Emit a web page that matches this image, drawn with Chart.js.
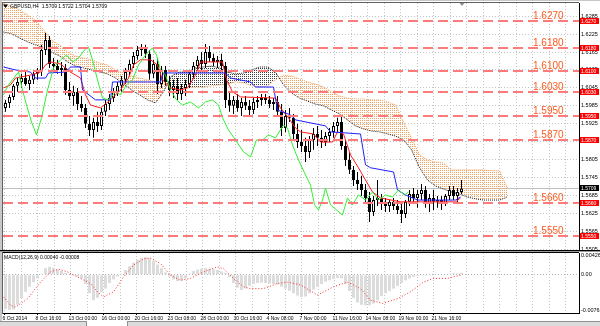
<!DOCTYPE html>
<html><head><meta charset="utf-8">
<script src="https://cdn.jsdelivr.net/npm/chart.js@4.4.0/dist/chart.umd.min.js"></script>
<style>
html,body{margin:0;padding:0;background:#fff;}
#wrap{position:relative;width:600px;height:326px;overflow:hidden;background:#fff;}
#main{position:absolute;left:0;top:0;}
#macd{position:absolute;left:0;top:252px;}
#tabs{position:absolute;left:0;top:321px;width:600px;height:5px;background:#dcdcdc;border-top:1px solid #909090;}
#tab1{position:absolute;left:86px;top:-1px;width:40px;height:6px;background:#fff;border-left:1px solid #909090;border-right:1px solid #909090;}
</style></head><body>
<div id="wrap">
<canvas id="main" width="600" height="252"></canvas>
<canvas id="macd" width="600" height="74"></canvas>
<div id="tabs"><div id="tab1"></div></div>
</div>
<script>
// ---------- DATA ----------
const timeLabels = ['6 Oct 2014','8 Oct 16:00','13 Oct 00:00','16 Oct 00:00','20 Oct 16:00','23 Oct 08:00','28 Oct 00:00','30 Oct 16:00','4 Nov 08:00','7 Nov 00:00','11 Nov 16:00','14 Nov 08:00','19 Nov 00:00','21 Nov 16:00'];
const priceTicks = [1.5505,1.5565,1.5625,1.5685,1.5745,1.5805,1.5865,1.5925,1.5985,1.6045,1.6105,1.6165,1.6225,1.6285];
const macdTicks = [0.00426, 0, -0.00762];
const levels = [1.6270,1.6180,1.6100,1.6030,1.5950,1.5870,1.5660,1.5550];
const lastPrice = 1.5709;
const headerText = 'GBPUSD,H4  1.5709 1.5722 1.5704 1.5709';
const macdTitle = 'MACD(12,26,9) 0.00040 -0.00008';

const opens = [1.5978,1.5995,1.6015,1.6052,1.6065,1.6078,1.6058,1.6072,1.6092,1.6098,
1.6172,1.6205,1.6125,1.6118,1.6105,1.6112,1.6038,1.6018,1.6032,1.5991,
1.5978,1.5925,1.5904,1.5931,1.5918,1.5965,1.5991,1.6011,1.6032,1.6052,
1.6072,1.6098,1.6125,1.6152,1.6172,1.6179,1.6159,1.6092,1.6125,1.6058,
1.6105,1.6065,1.6038,1.6052,1.6025,1.6045,1.6058,1.6092,1.6118,1.6139,
1.6125,1.6165,1.6145,1.6132,1.6139,1.6118,1.6005,1.5985,1.6005,1.5978,
1.5998,1.5985,1.5971,1.5998,1.6005,1.6011,1.6005,1.5991,1.5998,1.5965,
1.5911,1.5951,1.5945,1.5891,1.5864,1.5851,1.5831,1.5871,1.5891,1.5878,
1.5864,1.5884,1.5898,1.5918,1.5931,1.5851,1.5804,1.5771,1.5737,1.5724,
1.5704,1.5677,1.5630,1.5670,1.5677,1.5657,1.5650,1.5664,1.5650,1.5637,
1.5623,1.5664,1.5690,1.5677,1.5690,1.5704,1.5657,1.5677,1.5664,1.5670,
1.5657,1.5684,1.5704,1.5684,1.5697];
const highs = [1.6005,1.6022,1.6058,1.6078,1.6092,1.6098,1.6085,1.6105,1.6112,1.6189,
1.6229,1.6219,1.6145,1.6139,1.6132,1.6125,1.6065,1.6052,1.6045,1.6018,
1.5991,1.5951,1.5945,1.5965,1.5978,1.6005,1.6025,1.6045,1.6065,1.6085,
1.6112,1.6139,1.6165,1.6185,1.6192,1.6189,1.6172,1.6139,1.6145,1.6118,
1.6118,1.6085,1.6072,1.6078,1.6058,1.6072,1.6105,1.6132,1.6152,1.6165,
1.6192,1.6185,1.6159,1.6152,1.6159,1.6132,1.6032,1.6018,1.6025,1.6011,
1.6018,1.6005,1.6011,1.6018,1.6025,1.6025,1.6018,1.6011,1.6018,1.5991,
1.5971,1.5978,1.5958,1.5925,1.5904,1.5878,1.5884,1.5911,1.5918,1.5904,
1.5898,1.5911,1.5931,1.5945,1.5948,1.5871,1.5831,1.5784,1.5764,1.5751,
1.5724,1.5697,1.5684,1.5737,1.5690,1.5677,1.5670,1.5677,1.5670,1.5657,
1.5670,1.5704,1.5710,1.5704,1.5724,1.5717,1.5690,1.5704,1.5684,1.5684,
1.5690,1.5717,1.5717,1.5710,1.5737];
const lows = [1.5965,1.5978,1.6005,1.6032,1.6045,1.6052,1.6038,1.6058,1.6072,1.6085,
1.6155,1.6112,1.6098,1.6092,1.6085,1.6022,1.6005,1.5985,1.5971,1.5965,
1.5911,1.5884,1.5878,1.5898,1.5904,1.5951,1.5971,1.5998,1.6018,1.6032,
1.6058,1.6085,1.6112,1.6139,1.6152,1.6145,1.6072,1.6078,1.6025,1.6045,
1.6052,1.6018,1.6011,1.6005,1.6005,1.6018,1.6045,1.6078,1.6105,1.6098,
1.6112,1.6132,1.6118,1.6112,1.6105,1.5978,1.5965,1.5958,1.5965,1.5951,
1.5971,1.5951,1.5958,1.5978,1.5985,1.5991,1.5978,1.5971,1.5951,1.5884,
1.5898,1.5931,1.5871,1.5844,1.5831,1.5797,1.5811,1.5838,1.5851,1.5844,
1.5851,1.5864,1.5878,1.5898,1.5838,1.5784,1.5757,1.5717,1.5704,1.5684,
1.5657,1.5597,1.5617,1.5650,1.5637,1.5630,1.5630,1.5637,1.5623,1.5593,
1.5610,1.5650,1.5657,1.5644,1.5670,1.5644,1.5630,1.5637,1.5644,1.5637,
1.5650,1.5670,1.5670,1.5657,1.5690];
const closes = [1.5995,1.6015,1.6052,1.6065,1.6078,1.6058,1.6072,1.6092,1.6098,1.6172,
1.6205,1.6125,1.6118,1.6105,1.6112,1.6038,1.6018,1.6032,1.5991,1.5978,
1.5925,1.5904,1.5931,1.5918,1.5965,1.5991,1.6011,1.6032,1.6052,1.6072,
1.6098,1.6125,1.6152,1.6172,1.6179,1.6159,1.6092,1.6125,1.6058,1.6105,
1.6065,1.6038,1.6052,1.6025,1.6045,1.6058,1.6092,1.6118,1.6139,1.6125,
1.6165,1.6145,1.6132,1.6139,1.6118,1.6005,1.5985,1.6005,1.5978,1.5998,
1.5985,1.5971,1.5998,1.6005,1.6011,1.6005,1.5991,1.5998,1.5965,1.5911,
1.5951,1.5945,1.5891,1.5864,1.5851,1.5831,1.5871,1.5891,1.5878,1.5864,
1.5884,1.5898,1.5918,1.5931,1.5851,1.5804,1.5771,1.5737,1.5724,1.5704,
1.5677,1.5630,1.5670,1.5677,1.5657,1.5650,1.5664,1.5650,1.5637,1.5623,
1.5664,1.5690,1.5677,1.5690,1.5704,1.5657,1.5677,1.5664,1.5670,1.5657,
1.5684,1.5704,1.5684,1.5697,1.5709];

// Ichimoku lines: [bar index (H4), price]
const tenkan = [[0,1.6045],[3.5,1.6055],[6,1.6078],[13.5,1.6088],[18.5,1.6098],[21,1.6122],[23.5,1.6132],[28.5,1.6125],[33.5,1.6098],[38.5,1.6078],[41,1.6022],[43.5,1.5988],[48.5,1.5978],[53.5,1.6005],[58.5,1.6038],[62.5,1.6078],[65,1.6122],[68.5,1.6139],[73.5,1.6139],[77,1.6122],[79.5,1.6072],[83.5,1.6045],[88.5,1.6038],[92,1.6045],[96,1.6088],[98.5,1.6132],[109.5,1.6132],[111.5,1.6072],[114.5,1.6032],[118.5,1.6015],[136,1.6011],[138.5,1.5978],[142.5,1.5945],[146,1.5911],[148.5,1.5898],[155,1.5891],[158.5,1.5864],[164.5,1.5864],[167,1.5898],[170,1.5891],[173.5,1.5821],[177.5,1.5778],[181,1.5737],[184.5,1.5697],[188.5,1.5677],[198.5,1.5664],[208.5,1.5664],[226,1.5664],[228.5,1.5677]];
const kijun = [[0,1.6115],[6,1.6105],[13.5,1.6098],[16,1.6078],[21,1.6078],[22.5,1.6095],[31,1.6098],[33.5,1.6115],[38.5,1.6115],[39.5,1.6038],[46,1.6005],[53.5,1.6005],[54.5,1.6065],[78.5,1.6065],[80,1.6095],[111,1.6095],[113.5,1.6078],[123.5,1.6065],[126,1.6048],[135,1.6048],[137,1.5971],[143.5,1.5955],[146,1.5938],[161,1.5918],[163.5,1.5898],[178.5,1.5891],[181,1.5788],[183.5,1.5778],[195,1.5764],[197,1.5704],[201,1.5687],[207,1.5670],[226,1.5670],[228.5,1.5680]];
const chikou = [[0,1.6022],[2.5,1.6055],[4.5,1.6072],[7.5,1.6098],[9.5,1.6038],[11.5,1.5988],[14,1.5931],[16.5,1.5888],[19,1.5945],[22,1.6038],[25,1.6112],[28.5,1.6139],[31.5,1.6155],[34.5,1.6132],[37.5,1.6145],[40.5,1.6172],[42.5,1.6182],[44.5,1.6139],[47,1.6072],[49.5,1.6011],[52.5,1.6005],[56,1.6032],[58.5,1.6022],[61.5,1.6055],[64.5,1.6072],[67.5,1.6122],[71,1.6155],[74.5,1.6179],[76.5,1.6155],[78.5,1.6105],[81,1.6088],[83.5,1.6038],[86.5,1.6005],[89.5,1.5988],[93.5,1.5998],[97.5,1.5978],[101,1.5998],[104.5,1.6005],[107.5,1.5988],[109.5,1.5945],[112.5,1.5904],[116,1.5871],[120,1.5831],[123.5,1.5814],[126.5,1.5871],[129.5,1.5871],[132.5,1.5888],[136,1.5878],[140,1.5921],[142,1.5911],[144.5,1.5854],[147.5,1.5804],[151,1.5754],[153.5,1.5720],[155.5,1.5654],[157.5,1.5637],[159.5,1.5670],[161,1.5710],[163.5,1.5654],[166.5,1.5637],[169.5,1.5620],[172,1.5677],[174.5,1.5654],[177.5,1.5687],[181,1.5670],[184.5,1.5697],[187.5,1.5670],[191,1.5687],[194.5,1.5680],[197.5,1.5704],[200.5,1.5687],[202.5,1.5697]];
const cloudX = [0,4,8,12,16,20,24,28,32,36,40,44,48,52,56,60,64,68,72,76,80,84,88,92,96,100,104,108,112,116,120,124,128,132,136,140,144,148,152,156,160,164,168,172,176,180,184,188,192,196,200,204,208,212,216,220,224,228,232,236,240,244,248,252];
const spanA = [1.6232,1.6226,1.6212,1.6199,1.6189,1.6179,1.6165,1.6152,1.6132,1.6118,
1.6112,1.6105,1.6098,1.6092,1.6078,1.6058,1.6038,1.6022,1.6005,1.5995,
1.6032,1.6085,1.6098,1.6098,1.6112,1.6115,1.6118,1.6112,1.6098,1.6092,
1.6095,1.6105,1.6115,1.6115,1.6098,1.6055,1.6028,1.6011,1.6001,1.5991,
1.5985,1.5971,1.5958,1.5938,1.5918,1.5908,1.5901,1.5898,1.5891,1.5884,
1.5871,1.5838,1.5778,1.5737,1.5717,1.5707,1.5697,1.5690,1.5680,1.5674,
1.5670,1.5670,1.5670,1.5680];
const spanB = [1.6326,1.6319,1.6306,1.6289,1.6272,1.6239,1.6205,1.6189,1.6165,1.6152,
1.6145,1.6139,1.6128,1.6122,1.6105,1.6095,1.6085,1.6078,1.6072,1.6065,
1.6058,1.6052,1.6045,1.6045,1.6048,1.6048,1.6052,1.6055,1.6058,1.6065,
1.6062,1.6052,1.6048,1.6052,1.6072,1.6088,1.6085,1.6075,1.6065,1.6058,
1.6048,1.6032,1.6018,1.6011,1.6008,1.6008,1.6005,1.6005,1.5998,1.5988,
1.5931,1.5878,1.5821,1.5804,1.5797,1.5794,1.5771,1.5771,1.5771,1.5771,
1.5771,1.5768,1.5768,1.5710];

const macdMain = [-0.0074,-0.0076,-0.0075,-0.0065,-0.0050,-0.0037,-0.0026,-0.0016,-0.0008,0.0002,
0.0014,0.0017,0.0015,0.0011,0.0008,0.0004,0.0001,-0.0002,-0.0004,-0.0008,
-0.0020,-0.0040,-0.0055,-0.0050,-0.0038,-0.0030,-0.0018,-0.0010,-0.0004,0.0002,
0.0010,0.0018,0.0026,0.0032,0.0036,0.0038,0.0036,0.0030,0.0022,0.0014,
0.0005,-0.0004,-0.0010,-0.0014,-0.0013,-0.0008,0.0002,0.0008,0.0011,0.0013,
0.0014,0.0013,0.0012,0.0010,0.0007,0.0004,-0.0005,-0.0018,-0.0028,-0.0033,
-0.0030,-0.0024,-0.0020,-0.0018,-0.0017,-0.0018,-0.0019,-0.0020,-0.0021,-0.0026,
-0.0030,-0.0035,-0.0040,-0.0045,-0.0048,-0.0047,-0.0040,-0.0032,-0.0026,-0.0020,
-0.0015,-0.0012,-0.0009,-0.0007,-0.0008,-0.0020,-0.0035,-0.0050,-0.0060,-0.0065,
-0.0066,-0.0066,-0.0062,-0.0055,-0.0046,-0.0040,-0.0035,-0.0030,-0.0024,-0.0018,
-0.0012,-0.0008,-0.0005,-0.0003,-0.0002,-0.0002,-0.0001,-0.0001,0.0000,0.0001,
0.0001,0.0002,0.0003,0.0003,0.0004];
const macdSignal = [[0,-0.0048],[3.5,-0.0066],[6,-0.0070],[12,-0.0052],[18.5,-0.0016],[23.5,0.0006],[27.5,0.0012],[32,0.0006],[38.5,-0.0008],[43.5,-0.0019],[47,-0.0037],[50,-0.0048],[55,-0.0037],[60,-0.0005],[65,0.0021],[70,0.0034],[73.5,0.0036],[78.5,0.0024],[83.5,-0.0001],[88.5,-0.0012],[93.5,-0.0008],[100,0.0006],[107,0.0017],[110,0.0013],[115,-0.0008],[120,-0.0026],[123.5,-0.0030],[130,-0.0030],[137,-0.0019],[142,-0.0016],[148.5,-0.0022],[157,-0.0044],[165,-0.0026],[172,-0.0016],[178.5,-0.0030],[183.5,-0.0055],[189.5,-0.0062],[197,-0.0052],[203.5,-0.0037],[210,-0.0016],[215,-0.0008],[222,-0.0008],[228.5,-0.0001]];

// ---------- RENDER ----------
Chart.defaults.font.family = '"Liberation Sans", Arial, sans-serif';
const FONT = '"Liberation Sans", Arial, sans-serif';
const XMIN = -0.25, XMAX = 287.75;
const gridX = [];
for (let j = 0; j < 35; j++) gridX.push(0.5 + 8.25 * j);
const candleX = opens.map((_, k) => 2 * k + 1);

function dotPattern(color, w, h) {
  const c = document.createElement('canvas'); c.width = w; c.height = h;
  const g = c.getContext('2d'); g.fillStyle = color; g.fillRect(0, 0, 1, 1);
  return g.createPattern(c, 'repeat');
}
const orangeDots = dotPattern('#f4a460', 2, 2);
const darkDots = dotPattern('#404040', 2, 2);
const pts = arr => arr.map(([x, y]) => ({x, y}));

function tag(ctx, y, text, bg) {
  const top = Math.round(y) - 3;
  ctx.fillStyle = bg; ctx.fillRect(580, top, 19, 6);
  ctx.fillStyle = '#fff'; ctx.font = '5px ' + FONT;
  ctx.textAlign = 'left'; ctx.textBaseline = 'middle';
  ctx.fillText(text, 581, top + 3.3);
}

const mainDeco = {
  id: 'mainDeco',
  beforeDatasetsDraw(chart) {
    const {ctx, chartArea: a, scales: {y}} = chart;
    const py = Math.round(y.getPixelForValue(lastPrice)) + 0.5;
    ctx.save(); ctx.strokeStyle = '#c0c0c0'; ctx.lineWidth = 1;
    ctx.beginPath(); ctx.moveTo(a.left, py); ctx.lineTo(a.right, py); ctx.stroke();
    ctx.restore();
  },
  afterDatasetsDraw(chart) {
    const {ctx, chartArea: a, scales: {y}} = chart;
    ctx.save();
    ctx.beginPath(); ctx.rect(a.left, a.top, a.right - a.left, a.bottom - a.top); ctx.clip();
    levels.forEach(l => {
      const py = Math.round(y.getPixelForValue(l));
      ctx.strokeStyle = '#ff7a7a'; ctx.lineWidth = 2; ctx.setLineDash([10, 5]);
      ctx.beginPath(); ctx.moveTo(a.left, py); ctx.lineTo(a.right, py); ctx.stroke();
      ctx.setLineDash([]);
      ctx.fillStyle = '#ff5a1f'; ctx.font = '10px ' + FONT;
      ctx.textAlign = 'left'; ctx.textBaseline = 'alphabetic';
      ctx.fillText(l.toFixed(4), 533, py - 2.5);
    });
    ctx.restore();
  },
  afterDraw(chart) {
    const {ctx, chartArea: a, scales: {y}} = chart;
    ctx.save();
    levels.forEach(l => tag(ctx, y.getPixelForValue(l), l.toFixed(4), '#ff0000'));
    tag(ctx, y.getPixelForValue(lastPrice), lastPrice.toFixed(4), '#000000');
    // header
    ctx.fillStyle = '#000';
    ctx.beginPath(); ctx.moveTo(3, 4.5); ctx.lineTo(8, 4.5); ctx.lineTo(5.5, 8); ctx.closePath(); ctx.fill();
    ctx.font = '5px ' + FONT; ctx.textAlign = 'left'; ctx.textBaseline = 'middle';
    ctx.fillText(headerText, 10, 6.5);
    // shift marker
    ctx.fillStyle = '#909090';
    ctx.beginPath(); ctx.moveTo(459.5, 3); ctx.lineTo(464.5, 3); ctx.lineTo(462, 6); ctx.closePath(); ctx.fill();
    // frame
    ctx.fillStyle = '#c8c8c8'; ctx.fillRect(0, 0, 2, 252); ctx.fillRect(0, 0, 600, 1);
    ctx.fillStyle = '#606060'; ctx.fillRect(2, 2, a.right - 2, 1); ctx.fillRect(2, 2, 1, 250);
    ctx.fillStyle = '#000'; ctx.fillRect(0, 250, 600, 1);
    ctx.fillStyle = '#9a9a9a'; ctx.fillRect(0, 251, 600, 1);
    ctx.restore();
  }
};

new Chart(document.getElementById('main'), {
  type: 'line',
  data: { datasets: [
    {type: 'line', data: pts(chikou), borderColor: '#33ee33', borderWidth: 1, pointRadius: 0, order: 0},
    {type: 'line', data: pts(kijun), borderColor: '#2020ff', borderWidth: 1, pointRadius: 0, order: 0},
    {type: 'line', data: pts(tenkan), borderColor: '#ff1a1a', borderWidth: 1, pointRadius: 0, order: 0},
    {type: 'bar', data: candleX.map((x, k) => ({x, y: [opens[k], closes[k]]})),
      backgroundColor: candleX.map((_, k) => closes[k] >= opens[k] ? '#ffffff' : '#000000'),
      borderColor: '#000', borderWidth: 1, borderSkipped: false, grouped: false,
      maxBarThickness: 3, barPercentage: 1, categoryPercentage: 1, inflateAmount: 0, order: 1},
    {type: 'bar', data: candleX.map((x, k) => ({x, y: [lows[k], highs[k]]})),
      backgroundColor: '#000', borderWidth: 0, grouped: false,
      maxBarThickness: 1, barPercentage: 1, categoryPercentage: 1, inflateAmount: 0, order: 2},
    {type: 'line', data: cloudX.map((x, i) => ({x, y: spanA[i]})), borderColor: '#1a1a1a', borderWidth: 1,
      borderDash: [1, 1], pointRadius: 0, fill: {target: '+1', above: darkDots, below: orangeDots}, order: 9},
    {type: 'line', data: cloudX.map((x, i) => ({x, y: spanB[i]})), borderColor: '#f4a460', borderWidth: 1,
      borderDash: [1, 1], pointRadius: 0, fill: false, order: 8}
  ]},
  options: {
    responsive: false, animation: false, devicePixelRatio: 1,
    layout: {padding: {left: 3, top: 3, right: 0, bottom: 2}},
    plugins: {legend: {display: false}, tooltip: {enabled: false}},
    scales: {
      x: {type: 'linear', min: XMIN, max: XMAX, offset: false,
        afterBuildTicks: s => { s.ticks = gridX.map(v => ({value: v})); },
        afterFit: s => { s.height = 0; s.paddingLeft = 0; s.paddingRight = 0; },
        ticks: {display: false, autoSkip: false},
        grid: {color: '#c4c4c4', drawTicks: false, offset: false},
        border: {display: false, dash: [1, 2]}},
      y: {type: 'linear', position: 'right', min: 1.5503, max: 1.6329,
        afterBuildTicks: s => { s.ticks = priceTicks.map(v => ({value: v})); },
        afterFit: s => { s.width = 21; s.paddingTop = 0; s.paddingBottom = 0; },
        ticks: {autoSkip: false, padding: 2, color: '#000', font: {size: 5.5}, callback: v => v.toFixed(4)},
        grid: {color: '#c4c4c4', drawTicks: false},
        border: {display: true, color: '#000', width: 1, dash: [1, 2]}}
    }
  },
  plugins: [mainDeco]
});

const macdDeco = {
  id: 'macdDeco',
  afterDraw(chart) {
    const {ctx, chartArea: a} = chart;
    ctx.save();
    ctx.fillStyle = '#000'; ctx.fillRect(0, 0, a.right, 1);
    ctx.fillStyle = '#c8c8c8'; ctx.fillRect(0, 0, 2, 70);
    ctx.fillStyle = '#606060'; ctx.fillRect(2, 0, 1, a.bottom + 1);
    ctx.fillStyle = '#000'; ctx.font = '5px ' + FONT; ctx.textAlign = 'left'; ctx.textBaseline = 'middle';
    ctx.fillText(macdTitle, 4, 5.5);
    ctx.restore();
  }
};

new Chart(document.getElementById('macd'), {
  type: 'line',
  data: { datasets: [
    {type: 'line', data: pts(macdSignal), borderColor: '#ff2a2a', borderWidth: 1, borderDash: [1, 2], pointRadius: 0, order: 0},
    {type: 'bar', data: candleX.map((x, k) => ({x, y: macdMain[k]})), backgroundColor: '#dcdcdc',
      borderWidth: 0, barThickness: 3, inflateAmount: 0, order: 1}
  ]},
  options: {
    responsive: false, animation: false, devicePixelRatio: 1,
    layout: {padding: {left: 3, top: 1, right: 0, bottom: 0}},
    plugins: {legend: {display: false}, tooltip: {enabled: false}},
    scales: {
      x: {type: 'linear', min: XMIN, max: XMAX, offset: false,
        afterBuildTicks: s => { s.ticks = gridX.map(v => ({value: v})); },
        afterFit: s => { s.height = 13; s.paddingLeft = 0; s.paddingRight = 0; },
        ticks: {autoSkip: false, maxRotation: 0, minRotation: 0, align: 'start', labelOffset: -2, padding: 1,
          color: '#000', font: {size: 5},
          callback: (v, i) => (i % 2 === 0 && timeLabels[i / 2]) ? timeLabels[i / 2] : ''},
        grid: {color: '#c4c4c4', drawTicks: true, tickLength: 2, offset: false,
          tickColor: c => (c.index % 2 === 0 && timeLabels[c.index / 2]) ? '#000' : 'rgba(0,0,0,0)'},
        border: {display: true, color: '#000', width: 1, dash: [1, 2]}},
      y: {type: 'linear', position: 'right', min: -0.00827, max: 0.00469,
        afterBuildTicks: s => { s.ticks = macdTicks.map(v => ({value: v})); },
        afterFit: s => { s.width = 21; s.paddingTop = 0; s.paddingBottom = 0; },
        ticks: {autoSkip: false, padding: 2, color: '#000', font: {size: 5.5},
          callback: v => v === 0 ? '0.00' : v.toFixed(5)},
        grid: {drawTicks: false, color: c => (c.tick && c.tick.value === 0) ? '#b4b4b4' : 'rgba(0,0,0,0)'},
        border: {display: true, color: '#000', width: 1, dash: [1, 2]}}
    }
  },
  plugins: [macdDeco]
});
</script>
</body></html>
